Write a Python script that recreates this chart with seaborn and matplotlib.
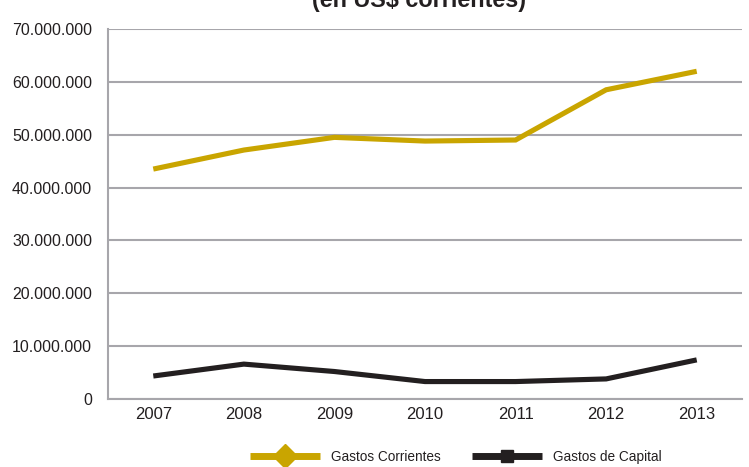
import numpy as np
import pandas as pd
import matplotlib
matplotlib.use("Agg")
import matplotlib.pyplot as plt
from matplotlib.lines import Line2D
from matplotlib.ticker import FuncFormatter, FixedLocator
import seaborn as sns

# ── datos ─────────────────────────────────────────────────────────────────────
years = ["2007", "2008", "2009", "2010", "2011", "2012", "2013"]
gastos_corrientes = [43.5e6, 47.1e6, 49.5e6, 48.8e6, 49.0e6, 58.5e6, 62.0e6]
gastos_capital = [4.35e6, 6.6e6, 5.2e6, 3.3e6, 3.3e6, 3.8e6, 7.4e6]
series_names = ["Gastos Corrientes", "Gastos de Capital"]
y_ticks = [0, 10e6, 20e6, 30e6, 40e6, 50e6, 60e6, 70e6]
title = "(en US$ corrientes)"

GOLD = "#C9A500"
BLACK = "#231F20"
GRID = "#A7A6AB"
TEXT = "#231F20"

sns.set_style("white")
plt.rcParams["font.family"] = ["Liberation Sans", "DejaVu Sans"]

df = pd.DataFrame({
    "year": years * 2,
    "value": gastos_corrientes + gastos_capital,
    "serie": [series_names[0]] * len(years) + [series_names[1]] * len(years),
})

fig = plt.figure(figsize=(7.49, 4.67), dpi=100)
ax = fig.add_axes([108 / 749, 1 - 399 / 467, (742 - 108) / 749, (399 - 29) / 467])

sns.lineplot(data=df, x="year", y="value", hue="serie",
             palette=[GOLD, BLACK], linewidth=3.7, ax=ax, legend=False,
             sort=False)
for ln in ax.lines:
    ln.set_solid_capstyle("butt")
    ln.set_solid_joinstyle("miter")

ax.set_xlim(-0.5, len(years) - 0.5)
ax.set_ylim(0, 70e6)
ax.set_xlabel("")
ax.set_ylabel("")

# eje y
ax.yaxis.set_major_locator(FixedLocator(y_ticks))
ax.yaxis.set_major_formatter(FuncFormatter(lambda v, p: "0" if v == 0 else f"{int(v):,}".replace(",", ".")))
ax.grid(axis="y", color=GRID, linewidth=1.5)
ax.set_axisbelow(True)
ax.tick_params(axis="y", length=8, width=1.1, color=GRID, pad=3.5,
               labelsize=11.5, labelcolor=TEXT)

# eje x: etiquetas centradas, marcas entre categorias
ax.set_xticks(range(len(years)))
ax.set_xticklabels(years)
ax.set_xticks(np.arange(-0.5, len(years), 1.0), minor=True)
ax.tick_params(axis="x", which="major", length=0, pad=6, labelsize=12, labelcolor=TEXT)
ax.tick_params(axis="x", which="minor", length=5, width=1.5, color=GRID, direction="out")

for side in ["top", "right"]:
    ax.spines[side].set_visible(False)
for side in ["left", "bottom"]:
    ax.spines[side].set_color(GRID)
    ax.spines[side].set_linewidth(1.5)

# titulo (cortado arriba como en el original)
fig.text(0.56, 1 - 7 / 467, title, ha="center", va="baseline",
         fontsize=16.8, fontweight="bold", color=TEXT)

# leyenda
handles = [
    Line2D([], [], color=GOLD, linewidth=5, marker="D", markersize=12,
           solid_capstyle="butt"),
    Line2D([], [], color=BLACK, linewidth=5, marker="s", markersize=8.5,
           solid_capstyle="butt"),
]
fig.legend(handles, series_names, loc="center", bbox_to_anchor=(0.608, 0.022),
           ncol=2, frameon=False, fontsize=9.8, handlelength=5.2,
           handletextpad=0.75, columnspacing=2.3, labelcolor=TEXT)

fig.savefig("out.png", dpi=100)
